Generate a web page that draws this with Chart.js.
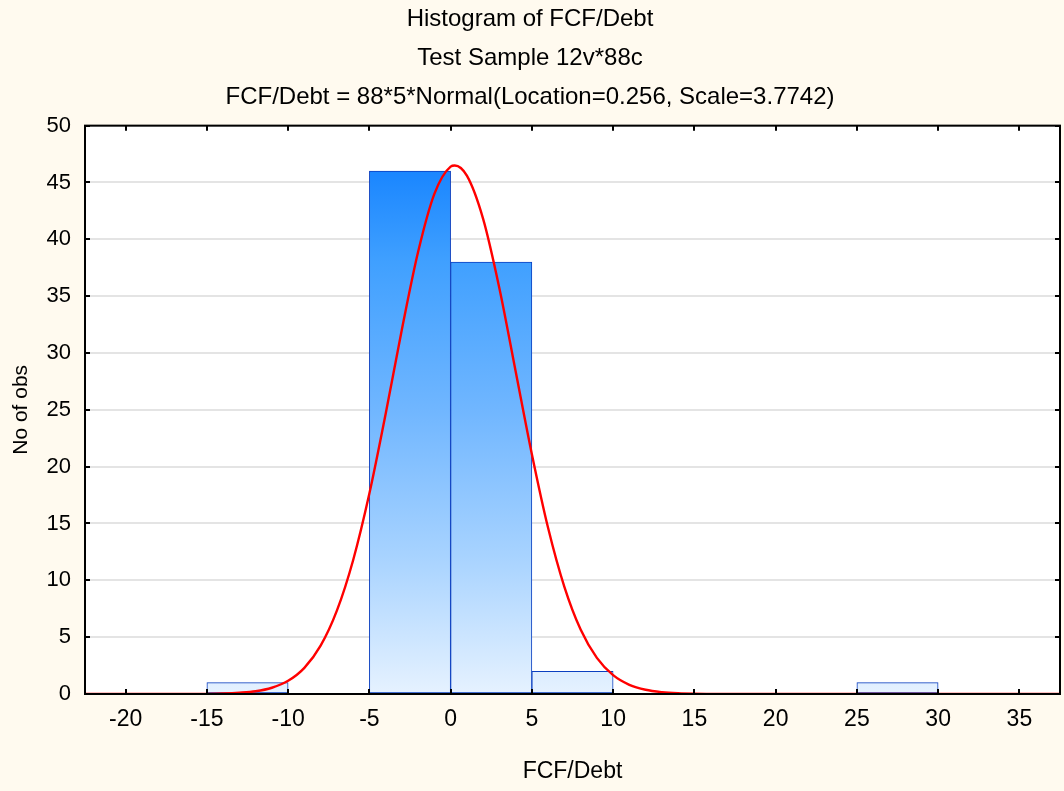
<!DOCTYPE html>
<html>
<head>
<meta charset="utf-8">
<script src="https://cdn.jsdelivr.net/npm/chart.js@4"></script>
<style>
  html, body { margin: 0; padding: 0; background: #FFFAEF; }
  #wrap { width: 1064px; height: 791px; }
</style>
</head>
<body>
<div id="wrap"><canvas id="histChart" width="1064" height="791"></canvas></div>
<script>
// Histogram bins (centres of 5-wide bins) and counts
const binCenters = [-17.5, -12.5, -7.5, -2.5, 2.5, 7.5, 12.5, 17.5, 22.5, 27.5, 32.5];
const counts = [0, 1, 0, 46, 38, 2, 0, 0, 0, 1, 0];

// Fitted normal curve
const curveX = [-22.5, -20, -18, -16, -15, -14, -13, -12, -11, -10, -9, -8, -7, -6, -5, -4, -3, -2, -1, 0, 0.256, 1, 2, 3, 4, 5, 6, 7, 8, 9, 10, 11, 12, 13, 14, 15, 16, 18, 20, 25, 30, 37.5];
const curveY = [0, 0, 0, 0, 0.01, 0.04, 0.11, 0.24, 0.55, 1.16, 2.3, 4.25, 7.33, 11.77, 17.63, 24.63, 32.06, 38.9, 44.0, 46.4, 46.5, 45.6, 41.8, 35.7, 28.4, 21.1, 14.6, 9.43, 5.67, 3.18, 1.66, 0.81, 0.37, 0.16, 0.06, 0.02, 0.01, 0, 0, 0, 0, 0];

const xTicks = [-20, -15, -10, -5, 0, 5, 10, 15, 20, 25, 30, 35];
const yTicks = [0, 5, 10, 15, 20, 25, 30, 35, 40, 45, 50];

const titleLines = [
  'Histogram of FCF/Debt',
  'Test Sample 12v*88c',
  'FCF/Debt = 88*5*Normal(Location=0.256, Scale=3.7742)'
];

const FONT = "'Liberation Sans', Arial, sans-serif";

function barGradient(context) {
  const area = context.chart.chartArea;
  if (!area) return '#60B0FF';
  const g = context.chart.ctx.createLinearGradient(0, area.top, 0, area.bottom);
  g.addColorStop(0, '#0A7CFF');
  g.addColorStop(0.08, '#1A86FF');
  g.addColorStop(0.24, '#40A0FF');
  g.addColorStop(0.5, '#70B6FF');
  g.addColorStop(0.76, '#A8D3FF');
  g.addColorStop(1, '#E6F2FF');
  return g;
}

// white plot area, black frame and inward ticks on all four sides
const framePlugin = {
  id: 'frame',
  beforeDraw(chart) {
    const { ctx, chartArea: a } = chart;
    ctx.save();
    ctx.fillStyle = '#FFFFFF';
    ctx.fillRect(a.left, a.top, a.right - a.left, a.bottom - a.top);
    ctx.restore();
  },
  afterDatasetsDraw(chart) {
    const { ctx, chartArea: a, scales } = chart;
    ctx.save();
    ctx.strokeStyle = '#000000';
    ctx.lineWidth = 2;
    ctx.strokeRect(a.left, a.top, a.right - a.left, a.bottom - a.top);
    ctx.beginPath();
    xTicks.forEach(v => {
      const px = Math.round(scales.x.getPixelForValue(v));
      ctx.moveTo(px, a.bottom); ctx.lineTo(px, a.bottom - 5);
      ctx.moveTo(px, a.top); ctx.lineTo(px, a.top + 5);
    });
    yTicks.forEach(v => {
      const py = Math.round(scales.y.getPixelForValue(v));
      ctx.moveTo(a.left, py); ctx.lineTo(a.left + 5, py);
      ctx.moveTo(a.right, py); ctx.lineTo(a.right - 5, py);
    });
    ctx.stroke();
    ctx.restore();
  }
};

const ctx = document.getElementById('histChart').getContext('2d');
new Chart(ctx, {
  type: 'bar',
  data: {
    datasets: [{
      type: 'line',
      data: curveX.map((x, i) => ({ x: x, y: curveY[i] })),
      borderColor: '#FF0000',
      borderWidth: 2.4,
      pointRadius: 0,
      cubicInterpolationMode: 'monotone',
      fill: false,
      order: 0
    }, {
      type: 'bar',
      data: binCenters.map((x, i) => ({ x: x, y: counts[i] })),
      backgroundColor: barGradient,
      borderColor: '#0A3FC0',
      borderWidth: 1,
      borderSkipped: false,
      barPercentage: 1,
      categoryPercentage: 1,
      order: 1
    }]
  },
  options: {
    responsive: false,
    animation: false,
    layout: { padding: { top: 0, right: 4, bottom: 0, left: 0 } },
    plugins: {
      legend: { display: false },
      tooltip: { enabled: false },
      title: {
        display: true,
        text: titleLines,
        color: '#000000',
        font: { family: FONT, size: 24, weight: 'normal', lineHeight: 1.62 },
        padding: { top: 0, bottom: 9 }
      }
    },
    scales: {
      x: {
        type: 'linear',
        min: -22.5,
        max: 37.5,
        offset: false,
        afterBuildTicks: scale => { scale.ticks = xTicks.map(v => ({ value: v })); },
        afterFit: scale => { scale.height = 97; },
        grid: { display: false, drawTicks: false },
        border: { display: false },
        ticks: { color: '#000000', font: { family: FONT, size: 23 }, padding: 12, maxRotation: 0, autoSkip: false },
        title: { display: true, text: 'FCF/Debt', color: '#000000', font: { family: FONT, size: 23 }, padding: { top: 4, bottom: 6 } }
      },
      y: {
        min: 0,
        max: 50,
        afterBuildTicks: scale => { scale.ticks = yTicks.map(v => ({ value: v })); },
        afterFit: scale => { scale.width = 85; },
        grid: { color: '#E4E4E4', lineWidth: 2, drawTicks: false },
        border: { display: false },
        ticks: { color: '#000000', font: { family: FONT, size: 22 }, padding: 14 },
        title: { display: true, text: 'No of obs', color: '#000000', font: { family: FONT, size: 21 }, padding: { top: 9, bottom: 0 } }
      }
    }
  },
  plugins: [framePlugin]
});
</script>
</body>
</html>
